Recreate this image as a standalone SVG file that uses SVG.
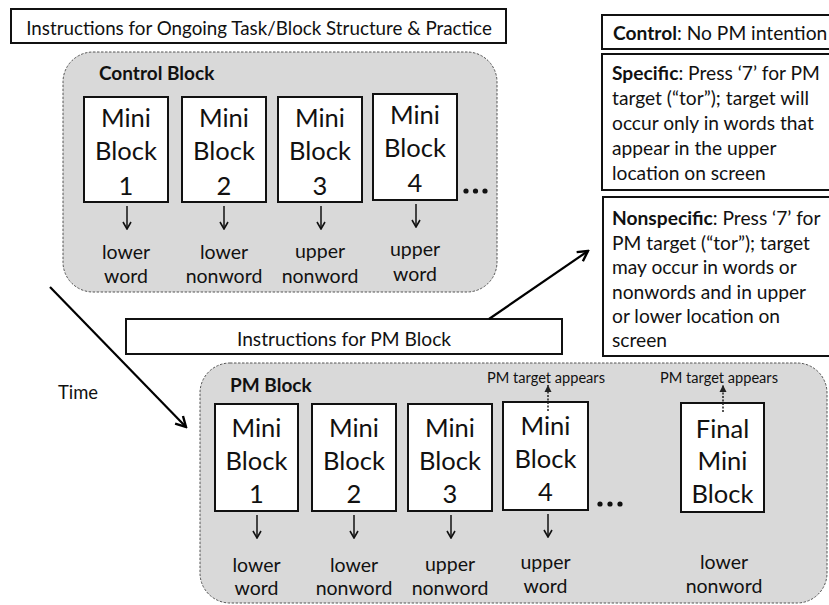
<svg xmlns="http://www.w3.org/2000/svg" width="829" height="605" viewBox="0 0 829 605">
<defs>
<style>
.t{font-family:Lato,"Open Sans","Liberation Sans",sans-serif;fill:#111}
.box{fill:#fff;stroke:#111;stroke-width:2}
.grp{fill:#d9d9d9;stroke:#555;stroke-width:1;stroke-dasharray:2.5 1.5}
.mb{font-size:25.5px;text-anchor:middle}
.lb{font-size:19.5px;text-anchor:middle}
.rt{font-size:19.2px}
.pm{font-size:14.6px;text-anchor:middle}
.b{font-weight:bold}
.conn{stroke:#000;stroke-width:2.2;fill:none}
.down{stroke:#111;stroke-width:1.5;fill:none}
.dot{stroke:#222;stroke-width:1.5;stroke-dasharray:2 1.5;fill:none}
</style>
<marker id="big" viewBox="0 0 14 14" refX="12" refY="7" markerWidth="14" markerHeight="14" orient="auto" markerUnits="userSpaceOnUse"><path d="M2,1.5 L12,7 L2,12.5" fill="none" stroke="#000" stroke-width="2.4"/></marker>
<marker id="sm" viewBox="0 0 10 10" refX="9" refY="5" markerWidth="10" markerHeight="10" orient="auto" markerUnits="userSpaceOnUse"><path d="M2,1 L9,5 L2,9" fill="none" stroke="#111" stroke-width="1.6"/></marker>
<marker id="tri" viewBox="0 0 8 8" refX="7" refY="4" markerWidth="8" markerHeight="8" orient="auto" markerUnits="userSpaceOnUse"><path d="M0,0.5 L7,4 L0,7.5 Z" fill="#222"/></marker>
</defs>

<g id="title">
<rect class="box" x="11" y="9" width="495" height="34"/>
<text class="t" x="259" y="35" font-size="18.8" text-anchor="middle">Instructions for Ongoing Task/Block Structure &amp; Practice</text>
</g>

<g id="control-block">
<rect class="grp" x="63" y="52" width="434" height="240" rx="30"/>
<text class="t b" x="99" y="80" font-size="19">Control Block</text>
</g>

<g id="cb1">
<rect class="box" x="84" y="97" width="84" height="105"/>
<text class="t mb" x="126" y="127">Mini</text><text class="t mb" x="126" y="160">Block</text><text class="t mb" x="126" y="195">1</text>
<text class="t lb" x="126" y="259">lower</text><text class="t lb" x="126" y="283">word</text>
</g>
<g id="cb2">
<rect class="box" x="182" y="97" width="84" height="105"/>
<text class="t mb" x="224" y="127">Mini</text><text class="t mb" x="224" y="160">Block</text><text class="t mb" x="224" y="195">2</text>
<text class="t lb" x="224" y="259">lower</text><text class="t lb" x="224" y="283">nonword</text>
</g>
<g id="cb3">
<rect class="box" x="278" y="97" width="84" height="105"/>
<text class="t mb" x="320" y="127">Mini</text><text class="t mb" x="320" y="160">Block</text><text class="t mb" x="320" y="195">3</text>
<text class="t lb" x="320" y="258">upper</text><text class="t lb" x="320" y="283">nonword</text>
</g>
<g id="cb4">
<rect class="box" x="373" y="94" width="84" height="106"/>
<text class="t mb" x="415" y="124">Mini</text><text class="t mb" x="415" y="157">Block</text><text class="t mb" x="415" y="192">4</text>
<text class="t lb" x="415" y="256">upper</text><text class="t lb" x="415" y="281">word</text>
</g>
<g id="cb-dots" fill="#111">
<circle cx="466" cy="191" r="2.6"/><circle cx="475.5" cy="191" r="2.6"/><circle cx="485" cy="191" r="2.6"/>
</g>

<g id="cond-control">
<rect class="box" x="602" y="15" width="230" height="34"/>
<text class="t rt" x="613" y="40"><tspan class="b">Control</tspan>: No PM intention</text>
</g>
<g id="cond-specific">
<rect class="box" x="602" y="54" width="230" height="136"/>
<text class="t rt" x="612" y="80"><tspan class="b">Specific</tspan>: Press ‘7’ for PM</text>
<text class="t rt" x="612" y="105">target (“tor”); target will</text>
<text class="t rt" x="612" y="130">occur only in words that</text>
<text class="t rt" x="612" y="155">appear in the upper</text>
<text class="t rt" x="612" y="180">location on screen</text>
</g>
<g id="cond-nonspecific">
<rect class="box" x="603" y="197" width="229" height="159"/>
<text class="t rt" x="612" y="225"><tspan class="b">Nonspecific</tspan>: Press ‘7’ for</text>
<text class="t rt" x="612" y="249.5">PM target (“tor”); target</text>
<text class="t rt" x="612" y="274">may occur in words or</text>
<text class="t rt" x="612" y="298.5">nonwords and in upper</text>
<text class="t rt" x="612" y="323">or lower location on</text>
<text class="t rt" x="612" y="347">screen</text>
</g>

<g id="pm-instructions">
<rect class="box" x="126" y="319" width="436" height="35"/>
<text class="t" x="344" y="346" font-size="19.2" text-anchor="middle">Instructions for PM Block</text>
</g>

<g id="time-label">
<text class="t" x="58" y="399" font-size="18.4">Time</text>
</g>

<g id="pm-block">
<rect class="grp" x="200" y="363" width="627" height="240" rx="30"/>
<text class="t b" x="230" y="392" font-size="19">PM Block</text>
</g>

<g id="pb1">
<rect class="box" x="215" y="404" width="83" height="107"/>
<text class="t mb" x="256.5" y="437">Mini</text><text class="t mb" x="256.5" y="470">Block</text><text class="t mb" x="256.5" y="503">1</text>
<text class="t lb" x="256.5" y="572">lower</text><text class="t lb" x="256.5" y="595">word</text>
</g>
<g id="pb2">
<rect class="box" x="312" y="404" width="84" height="107"/>
<text class="t mb" x="354" y="437">Mini</text><text class="t mb" x="354" y="470">Block</text><text class="t mb" x="354" y="503">2</text>
<text class="t lb" x="354" y="572">lower</text><text class="t lb" x="354" y="595">nonword</text>
</g>
<g id="pb3">
<rect class="box" x="408" y="404" width="84" height="107"/>
<text class="t mb" x="450" y="437">Mini</text><text class="t mb" x="450" y="470">Block</text><text class="t mb" x="450" y="503">3</text>
<text class="t lb" x="450" y="571">upper</text><text class="t lb" x="450" y="595">nonword</text>
</g>
<g id="pb4">
<rect class="box" x="503" y="402" width="85" height="108"/>
<text class="t mb" x="545.5" y="435">Mini</text><text class="t mb" x="545.5" y="468">Block</text><text class="t mb" x="545.5" y="501">4</text>
<text class="t lb" x="545.5" y="569">upper</text><text class="t lb" x="545.5" y="593">word</text>
<text class="t pm" x="546" y="383">PM target appears</text>
</g>
<g id="pb-dots" fill="#111">
<circle cx="600" cy="504" r="2.6"/><circle cx="610" cy="504" r="2.6"/><circle cx="620" cy="504" r="2.6"/>
</g>
<g id="pb-final">
<rect class="box" x="681" y="403" width="83" height="109"/>
<text class="t mb" x="722.5" y="438">Final</text><text class="t mb" x="722.5" y="470">Mini</text><text class="t mb" x="722.5" y="503">Block</text>
<text class="t lb" x="724" y="569">lower</text><text class="t lb" x="724" y="593">nonword</text>
<text class="t pm" x="719" y="383">PM target appears</text>
</g>

<g id="connectors">
<line class="conn" x1="50" y1="287" x2="186" y2="427" marker-end="url(#big)"/>
<line class="conn" x1="489" y1="319" x2="588" y2="251" marker-end="url(#big)"/>
<line class="down" x1="127" y1="206" x2="127" y2="229" marker-end="url(#sm)"/>
<line class="down" x1="224" y1="206" x2="224" y2="229" marker-end="url(#sm)"/>
<line class="down" x1="321" y1="206" x2="321" y2="229" marker-end="url(#sm)"/>
<line class="down" x1="416" y1="204" x2="416" y2="227" marker-end="url(#sm)"/>
<line class="down" x1="257" y1="515" x2="257" y2="538" marker-end="url(#sm)"/>
<line class="down" x1="354" y1="515" x2="354" y2="538" marker-end="url(#sm)"/>
<line class="down" x1="451" y1="515" x2="451" y2="538" marker-end="url(#sm)"/>
<line class="down" x1="548" y1="514" x2="548" y2="537" marker-end="url(#sm)"/>
<line class="dot" x1="548" y1="411" x2="548" y2="385" marker-end="url(#tri)"/>
<line class="dot" x1="723" y1="412" x2="723" y2="385" marker-end="url(#tri)"/>
</g>
</svg>
